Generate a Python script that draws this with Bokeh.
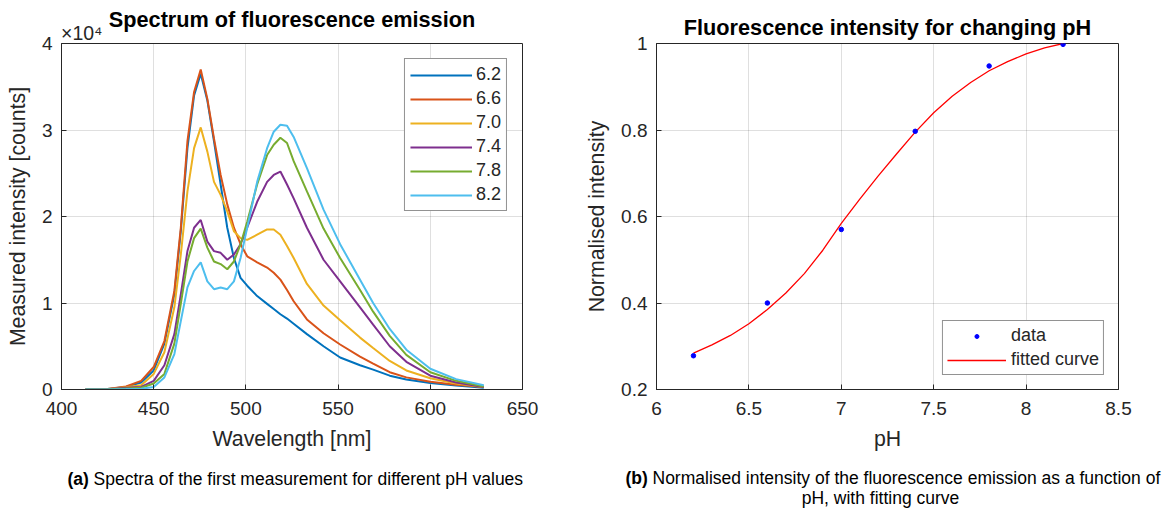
from bokeh.plotting import figure
from bokeh.layouts import row, column
from bokeh.models import FixedTicker, Legend, LegendItem, Range1d, LinearAxis
from bokeh.core.properties import value
from bokeh.embed import file_html
from bokeh.resources import INLINE

# ---------------- data ----------------
wavelength_nm = [413, 425, 435, 443.2, 450, 455.8, 461.2, 464.7, 468.3, 471.9, 475.5, 479.1,
                 482.7, 486.3, 489.9, 493.5, 497.1, 500.7, 506.1, 511.5, 515.1, 518.7, 522.3,
                 525.9, 533.1, 542.1, 551.1, 561.9, 569, 578, 587, 600, 614, 629]

counts_ph62 = [0, 50, 300, 800, 2200, 5300, 11000, 18300, 27900, 34000, 36500, 33400, 28700,
               23700, 18700, 15200, 12900, 12000, 10800, 9900, 9300, 8700, 8200, 7600, 6400,
               5000, 3700, 2800, 2300, 1600, 1150, 750, 450, 200]
counts_ph66 = [0, 50, 350, 1000, 2600, 5600, 11400, 18700, 28700, 34400, 37000, 33600, 29000,
               24800, 21400, 18700, 16800, 15400, 14700, 14100, 13500, 12700, 11500, 10200,
               8100, 6500, 5200, 3800, 3000, 2000, 1400, 900, 550, 300]
counts_ph70 = [0, 40, 250, 500, 1800, 4300, 9500, 15600, 22900, 27900, 30300, 27500, 24000,
               22500, 20600, 18300, 17500, 17300, 17900, 18500, 18500, 17900, 16600, 15200,
               12200, 9700, 8000, 6000, 4800, 3300, 2200, 1300, 700, 300]
counts_ph74 = [0, 30, 200, 300, 1000, 2800, 6400, 11000, 16000, 18700, 19600, 17100, 16000,
               15800, 15000, 15600, 16800, 18700, 21700, 24000, 24800, 25200, 23700, 22100,
               18700, 15000, 12500, 9500, 7500, 5000, 3200, 1600, 800, 300]
counts_ph78 = [0, 20, 120, 200, 700, 1800, 5300, 9900, 14800, 17500, 18600, 16400, 14800,
               14500, 13900, 14800, 16800, 19400, 23700, 27100, 28300, 29100, 28500, 26400,
               22900, 18600, 15200, 11500, 9000, 6200, 4000, 2000, 1000, 350]
counts_ph82 = [0, 10, 50, 100, 300, 1400, 4100, 7900, 11800, 13700, 14700, 12500, 11600,
               11800, 11600, 12500, 15200, 18700, 24000, 27900, 29800, 30600, 30500, 29200,
               25600, 20800, 16800, 12700, 10000, 7000, 4600, 2400, 1200, 500]

ph_labels = ["6.2", "6.6", "7.0", "7.4", "7.8", "8.2"]
spectra = [counts_ph62, counts_ph66, counts_ph70, counts_ph74, counts_ph78, counts_ph82]
spectra_colors = ["#0072BD", "#D95319", "#EDB120", "#7E2F8E", "#77AC30", "#4DBEEE"]

ph_data = [6.2, 6.6, 7.0, 7.4, 7.8, 8.2]
norm_data = [0.278, 0.400, 0.570, 0.797, 0.948, 0.998]

ph_fit = [6.2, 6.3, 6.4, 6.5, 6.6, 6.7, 6.8, 6.9, 7.0, 7.1, 7.2, 7.3, 7.4, 7.5, 7.6, 7.7,
          7.8, 7.9, 8.0, 8.1, 8.2]
norm_fit = [0.284, 0.303, 0.325, 0.352, 0.385, 0.423, 0.468, 0.522, 0.584, 0.640, 0.694,
            0.745, 0.795, 0.840, 0.878, 0.910, 0.937, 0.958, 0.976, 0.990, 1.000]

x1_ticks = [400, 450, 500, 550, 600, 650]
y1_ticks = [0, 10000, 20000, 30000, 40000]
y1_tick_labels = {0: "0", 10000: "1", 20000: "2", 30000: "3", 40000: "4"}
y1_multiplier = "\u00d710\u2074"
x2_ticks = [6, 6.5, 7, 7.5, 8, 8.5]
x2_tick_labels = {6: "6", 6.5: "6.5", 7: "7", 7.5: "7.5", 8: "8", 8.5: "8.5"}
y2_ticks = [0.2, 0.4, 0.6, 0.8, 1]
y2_tick_labels = {0.2: "0.2", 0.4: "0.4", 0.6: "0.6", 0.8: "0.8", 1: "1"}

title_left = "Spectrum of fluorescence emission"
title_right = "Fluorescence intensity for changing pH"
caption_a = "Spectra of the first measurement for different pH values"
caption_b1 = "Normalised intensity of the fluorescence emission as a function of"
caption_b2 = "pH, with fitting curve"

# ---------------- style ----------------
FONT = "Liberation Sans"
TXT = "#262626"
W = 581
CAP_H = 46
PLOT_H = 509 - CAP_H


def blank(width, height):
    f = figure(width=width, height=height, output_backend="svg", toolbar_location=None,
               title=None, x_range=Range1d(0, width), y_range=Range1d(height, 0),
               x_axis_location=None, y_axis_location=None,
               min_border_left=0, min_border_right=0, min_border_top=0, min_border_bottom=0)
    f.outline_line_color = None
    f.grid.visible = False
    return f


def style(p, xt, yt, xover, yover, xlabel, ylabel):
    p.xaxis.ticker = FixedTicker(ticks=xt)
    p.yaxis.ticker = FixedTicker(ticks=yt)
    if xover:
        p.xaxis.major_label_overrides = xover
    if yover:
        p.yaxis.major_label_overrides = yover
    p.xaxis.axis_label = xlabel
    p.yaxis.axis_label = ylabel
    for ax in (p.xaxis[0], p.yaxis[0]):
        ax.major_tick_in = 5
        ax.major_tick_out = 0
        ax.minor_tick_in = 0
        ax.minor_tick_out = 0
        ax.axis_line_color = TXT
        ax.major_tick_line_color = TXT
        ax.major_label_text_font = FONT
        ax.major_label_text_font_size = "19px"
        ax.major_label_text_color = TXT
        ax.axis_label_text_font = FONT
        ax.axis_label_text_font_size = "21.3px"
        ax.axis_label_text_font_style = "normal"
        ax.axis_label_text_color = TXT
        ax.axis_label_standoff = 9
    p.xaxis.major_label_standoff = 12
    p.yaxis.major_label_standoff = 9
    p.grid.grid_line_color = TXT
    p.grid.grid_line_alpha = 0.15
    p.outline_line_color = TXT
    p.outline_line_alpha = 1
    p.title.align = "center"
    p.title.text_font = FONT
    p.title.text_font_size = "21.7px"
    p.title.text_font_style = "bold"
    p.title.text_color = "black"
    p.title.standoff = 8


# ---------------- left plot ----------------
p1 = figure(width=W, height=PLOT_H, output_backend="svg", toolbar_location=None,
            title=title_left, x_range=Range1d(400, 650), y_range=Range1d(0, 40000),
            min_border_left=61, min_border_right=59, min_border_top=42,
            min_border_bottom=PLOT_H - 42 - 347)
style(p1, x1_ticks, y1_ticks, None, y1_tick_labels, "Wavelength [nm]", "Measured intensity [counts]")

# axis multiplier "x10^4" shown at the top-left corner of the frame
mult_axis = LinearAxis(ticker=FixedTicker(ticks=[411]), major_label_overrides={411: y1_multiplier},
                       axis_line_color=None, major_tick_line_color=None,
                       minor_tick_line_color=None, major_tick_in=0, major_tick_out=0,
                       major_label_standoff=0, major_label_text_font=FONT,
                       major_label_text_font_size="19.5px", major_label_text_color=TXT)
p1.add_layout(mult_axis, "above")
p1.title.standoff = -26

items1 = []
for lab, vals, col in zip(ph_labels, spectra, spectra_colors):
    r = p1.line(wavelength_nm, vals, line_color=col, line_width=2)
    items1.append(LegendItem(label=lab, renderers=[r]))
leg1 = Legend(items=items1, location="top_right", margin=15, padding=5, spacing=3,
              glyph_width=62, glyph_height=20, label_height=20, label_standoff=4,
              label_text_font=FONT, label_text_font_size="18px", label_text_color=TXT,
              border_line_color=TXT, border_line_width=1, background_fill_alpha=1)
p1.add_layout(leg1)

# ---------------- right plot ----------------
p2 = figure(width=W, height=PLOT_H, output_backend="svg", toolbar_location=None,
            title=title_right, x_range=Range1d(6, 8.5), y_range=Range1d(0.2, 1),
            min_border_left=75, min_border_right=44, min_border_top=43,
            min_border_bottom=PLOT_H - 43 - 346)
style(p2, x2_ticks, y2_ticks, x2_tick_labels, y2_tick_labels, "pH", "Normalised intensity")

rfit = p2.line(ph_fit, norm_fit, line_color="#FF0000", line_width=1.3)
rdat = p2.scatter(ph_data, norm_data, size=4.5, fill_color="#0000FF", line_color="#0000FF")
leg2 = Legend(items=[LegendItem(label="data", renderers=[rdat]),
                     LegendItem(label="fitted curve", renderers=[rfit])],
              location="bottom_right", margin=14, padding=4, spacing=3,
              glyph_width=59, glyph_height=10, label_height=18, label_standoff=5,
              label_text_font=FONT, label_text_font_size="18px", label_text_color=TXT,
              border_line_color=TXT, border_line_width=1, background_fill_alpha=1)
p2.add_layout(leg2)

# ---------------- captions ----------------
cap = blank(2 * W, CAP_H)
cap.text(x=[67], y=[478 - PLOT_H], text=["(a)"], text_font=value(FONT),
         text_font_size="17.5px", text_font_style="bold", text_color="black",
         text_align="left", text_baseline="middle")
cap.text(x=[93], y=[478 - PLOT_H], text=[caption_a], text_font=value(FONT),
         text_font_size="17.5px", text_color="black", text_align="left", text_baseline="middle")
cap.text(x=[625], y=[477 - PLOT_H], text=["(b)"], text_font=value(FONT),
         text_font_size="17.5px", text_font_style="bold", text_color="black",
         text_align="left", text_baseline="middle")
cap.text(x=[652], y=[477 - PLOT_H], text=[caption_b1], text_font=value(FONT),
         text_font_size="17.5px", text_color="black", text_align="left", text_baseline="middle")
cap.text(x=[880], y=[497 - PLOT_H], text=[caption_b2], text_font=value(FONT),
         text_font_size="17.5px", text_color="black", text_align="center", text_baseline="middle")

layout = column(row(p1, p2), cap)
open("out.html", "w").write(file_html(layout, INLINE))
